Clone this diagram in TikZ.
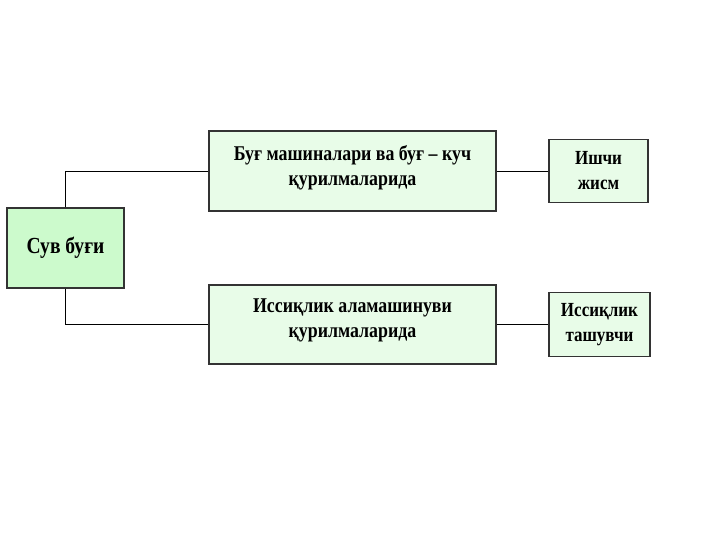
\documentclass[tikz,border=0pt]{standalone}
\usepackage{fontspec}
\setmainfont{Liberation Serif}
\newfontfamily\boxfont[FakeStretch=0.85]{Liberation Serif}

\definecolor{deepgreen}{RGB}{204,250,204}
\definecolor{palegreen}{RGB}{232,252,232}

\begin{document}
\begin{tikzpicture}[
  x=1pt,y=-1pt,
  box/.style={draw=black!80,line width=1.2pt,inner sep=0pt,align=center},
  srcbox/.style={box,fill=deepgreen,font={\boxfont\bfseries\fontsize{23}{27}\selectfont}},
  usebox/.style={box,fill=palegreen,font={\boxfont\bfseries\fontsize{20}{25}\selectfont}},
  midtext/.style={align=center,font={\boxfont\bfseries\fontsize{21}{25}\selectfont}},
  link/.style={black,line width=0.9pt},
]
  \useasboundingbox (0,0) rectangle (720,540);
  % source
  \node[srcbox,minimum width=117,minimum height=80] (steam) at (65.5,248) {Сув буғи};
  % where it is used
  \node[usebox,minimum width=287,minimum height=80] (engine) at (352.5,171) {};
  \node[midtext] (engine-txt) at (352.5,168) {Буғ машиналари ва буғ – куч\\қурилмаларида};
  \node[usebox,minimum width=287,minimum height=79] (exchange) at (352.5,324.5) {};
  \node[midtext] (exchange-txt) at (352.5,320.5) {Иссиқлик аламашинуви\\қурилмаларида};
  % its role
  \node[usebox,minimum width=99,minimum height=63] (body) at (598.5,171) {Ишчи\\жисм};
  \node[usebox,minimum width=101,minimum height=64] (carrier) at (599.5,324.5) {Иссиқлик\\ташувчи};
  \draw[link] (steam.north) |- (engine.west);
  \draw[link] (steam.south) |- (exchange.west);
  \draw[link] (engine.east) -- (body.west);
  \draw[link] (exchange.east) -- (carrier.west);
\end{tikzpicture}
\end{document}
